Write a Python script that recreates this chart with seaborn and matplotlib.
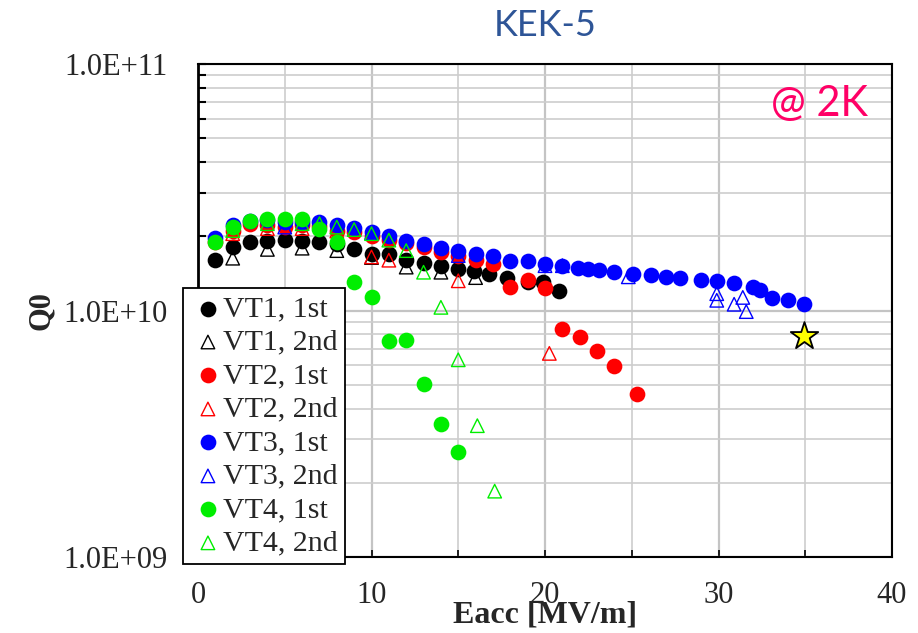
import numpy as np
import pandas as pd
import matplotlib
matplotlib.use("Agg")
import matplotlib.pyplot as plt
import seaborn as sns
from matplotlib.ticker import LogLocator, MultipleLocator, NullFormatter, FuncFormatter

sns.set_theme(style="white")
plt.rcParams['font.family'] = ['Liberation Serif', 'DejaVu Serif']

# ---------------- data (Eacc in MV/m, Q0 in units of 1e10) ----------------
vt1_1st_e = [1, 2, 3, 4, 5, 6, 7, 8, 9, 10, 11, 12, 13, 14, 15, 15.9, 16.8, 17.8, 19, 19.9, 20.8]
vt1_1st_q = [1.61, 1.81, 1.90, 1.91, 1.94, 1.91, 1.90, 1.86, 1.78, 1.70, 1.70, 1.61, 1.56, 1.52,
             1.48, 1.45, 1.40, 1.36, 1.31, 1.30, 1.20]

vt1_2nd_e = [2, 4, 6, 8, 10, 12, 14, 16]
vt1_2nd_q = [1.63, 1.77, 1.79, 1.75, 1.64, 1.50, 1.43, 1.36]

vt2_1st_e = [1, 2, 3, 4, 5, 6, 7, 8, 9, 10, 11, 12, 13, 14, 15, 16, 17, 18, 19, 20,
             21, 22, 23, 24, 25.3]
vt2_1st_q = [1.89, 2.11, 2.25, 2.22, 2.18, 2.22, 2.20, 2.11, 2.08, 2.00, 1.93, 1.87, 1.81, 1.73,
             1.67, 1.61, 1.55, 1.24, 1.33, 1.23, 0.843, 0.784, 0.687, 0.597, 0.458]

vt2_2nd_e = [2, 4, 6, 8, 10, 11, 15, 20.25]
vt2_2nd_q = [2.05, 2.15, 2.15, 2.10, 1.65, 1.60, 1.32, 0.67]

vt3_1st_e = [1, 2, 3, 4, 5, 6, 7, 8, 9, 10, 11, 12, 13, 14, 15, 16, 17, 18, 19, 20, 21,
             21.9, 22.5, 23.1, 24, 25.05, 26.1, 27, 27.8, 29, 29.9, 30.9, 32, 32.4, 33.1, 34, 34.9]
vt3_1st_q = [1.96, 2.22, 2.30, 2.33, 2.29, 2.29, 2.29, 2.23, 2.17, 2.08, 2.00, 1.91, 1.86, 1.80,
             1.75, 1.70, 1.66, 1.59, 1.59, 1.55, 1.51, 1.49, 1.47, 1.46, 1.43, 1.41, 1.39, 1.37,
             1.36, 1.33, 1.32, 1.29, 1.24, 1.21, 1.12, 1.10, 1.06]

vt3_2nd_e = [5, 10, 15, 20, 21, 24.8, 29.9, 29.9, 30.9, 31.4, 31.6]
vt3_2nd_q = [2.18, 2.07, 1.67, 1.52, 1.52, 1.37, 1.17, 1.10, 1.06, 1.13, 0.99]

vt4_1st_e = [1, 2, 3, 4, 5, 6, 7, 8, 9, 10, 11, 12, 13, 14, 15]
vt4_1st_q = [1.89, 2.18, 2.30, 2.36, 2.36, 2.36, 2.15, 1.90, 1.30, 1.13, 0.750, 0.762, 0.504,
             0.346, 0.267]

vt4_2nd_e = [2, 4, 6, 7, 8, 9, 10, 11, 12, 13, 14, 15, 16.1, 17.1]
vt4_2nd_q = [2.11, 2.25, 2.25, 2.25, 2.18, 2.13, 2.05, 1.93, 1.75, 1.43, 1.03, 0.631, 0.341, 0.185]

star_e = [34.9]
star_q = [0.79]

labels = ["VT1, 1st", "VT1, 2nd", "VT2, 1st", "VT2, 2nd",
          "VT3, 1st", "VT3, 2nd", "VT4, 1st", "VT4, 2nd"]
colors = ["#000000", "#000000", "#FF0000", "#FF0000",
          "#0000FF", "#0000FF", "#00EE00", "#00EE00"]
es = [vt1_1st_e, vt1_2nd_e, vt2_1st_e, vt2_2nd_e, vt3_1st_e, vt3_2nd_e, vt4_1st_e, vt4_2nd_e]
qs = [vt1_1st_q, vt1_2nd_q, vt2_1st_q, vt2_2nd_q, vt3_1st_q, vt3_2nd_q, vt4_1st_q, vt4_2nd_q]

# ---------------- figure ----------------
W, H = 918, 633
fig = plt.figure(figsize=(W / 100, H / 100), dpi=100)
L, R, T, B = 198, 892, 64, 557
ax = fig.add_axes([L / W, 1 - B / H, (R - L) / W, (B - T) / H])

for i, (lab, e, q, c) in enumerate(zip(labels, es, qs, colors)):
    df = pd.DataFrame({"Eacc": e, "Q0": np.array(q) * 1e10})
    if i % 2 == 0:
        sns.scatterplot(data=df, x="Eacc", y="Q0", ax=ax, marker="o", s=128,
                        color=c, edgecolor=c, linewidth=0, label=lab, zorder=3 + i)
    else:
        sns.scatterplot(data=df, x="Eacc", y="Q0", ax=ax, marker="^", s=95,
                        color=c, facecolor="none", edgecolor=c, linewidth=1.0,
                        label=lab, zorder=3 + i)

sdf = pd.DataFrame({"Eacc": star_e, "Q0": np.array(star_q) * 1e10})
sns.scatterplot(data=sdf, x="Eacc", y="Q0", ax=ax, marker="*", s=430,
                color="#FFFF00", edgecolor="black", linewidth=1.3, zorder=20, label="_nolegend_")

ax.set_yscale("log")
ax.set_xlim(0, 40)
ax.set_ylim(1e9, 1e11)

ax.yaxis.set_major_locator(LogLocator(base=10, numticks=10))
ax.yaxis.set_minor_locator(LogLocator(base=10, subs=np.arange(2, 10), numticks=20))
ax.yaxis.set_major_formatter(FuncFormatter(lambda v, p: f"{v:.1E}"))
ax.yaxis.set_minor_formatter(NullFormatter())
ax.xaxis.set_major_locator(MultipleLocator(10))
ax.xaxis.set_minor_locator(MultipleLocator(5))

ax.grid(True, which="major", color="#C4C4C4", linewidth=1.6)
ax.grid(True, which="minor", color="#CDCDCD", linewidth=1.2)
ax.set_axisbelow(True)

ax.tick_params(axis="y", which="both", direction="in", length=6, width=1.5,
               color="black", labelsize=22, pad=22, left=True, right=False)
ax.tick_params(axis="x", which="both", direction="in", length=5, width=1.2,
               color="black", labelsize=22, pad=17.5, bottom=True, top=False)
for sp in ax.spines.values():
    sp.set_visible(True)
    sp.set_color("black")
    sp.set_linewidth(1.5)
ax.spines["left"].set_linewidth(2.0)

ax.set_xlabel("Eacc [MV/m]", fontsize=23, fontweight="bold")
ax.xaxis.set_label_coords(0.5, -0.089)
ax.set_ylabel("Q0", fontsize=22, fontweight="bold")
ax.yaxis.set_label_coords(-0.205, 0.5)

ax.text(0.5, 1.078, "KEK-5", transform=ax.transAxes, ha="center", va="center",
        fontsize=26, color="#2E5597", family=["Lato", "DejaVu Sans"])
ax.text(0.895, 0.919, "@ 2K", transform=ax.transAxes, ha="center", va="center",
        fontsize=30, color="#FF0066", family=["Lato", "DejaVu Sans"])

leg = ax.legend(loc="upper left", bbox_to_anchor=(183 / W, 1 - 288 / H),
                bbox_transform=fig.transFigure, fontsize=21.5, frameon=True,
                fancybox=False, edgecolor="black", framealpha=1, borderpad=0.25,
                labelspacing=0.22, handlelength=1.17, handletextpad=-0.08,
                borderaxespad=0, scatterpoints=1)
leg.get_frame().set_linewidth(1.3)
leg.set_zorder(50)

fig.savefig("out.png", dpi=100)
